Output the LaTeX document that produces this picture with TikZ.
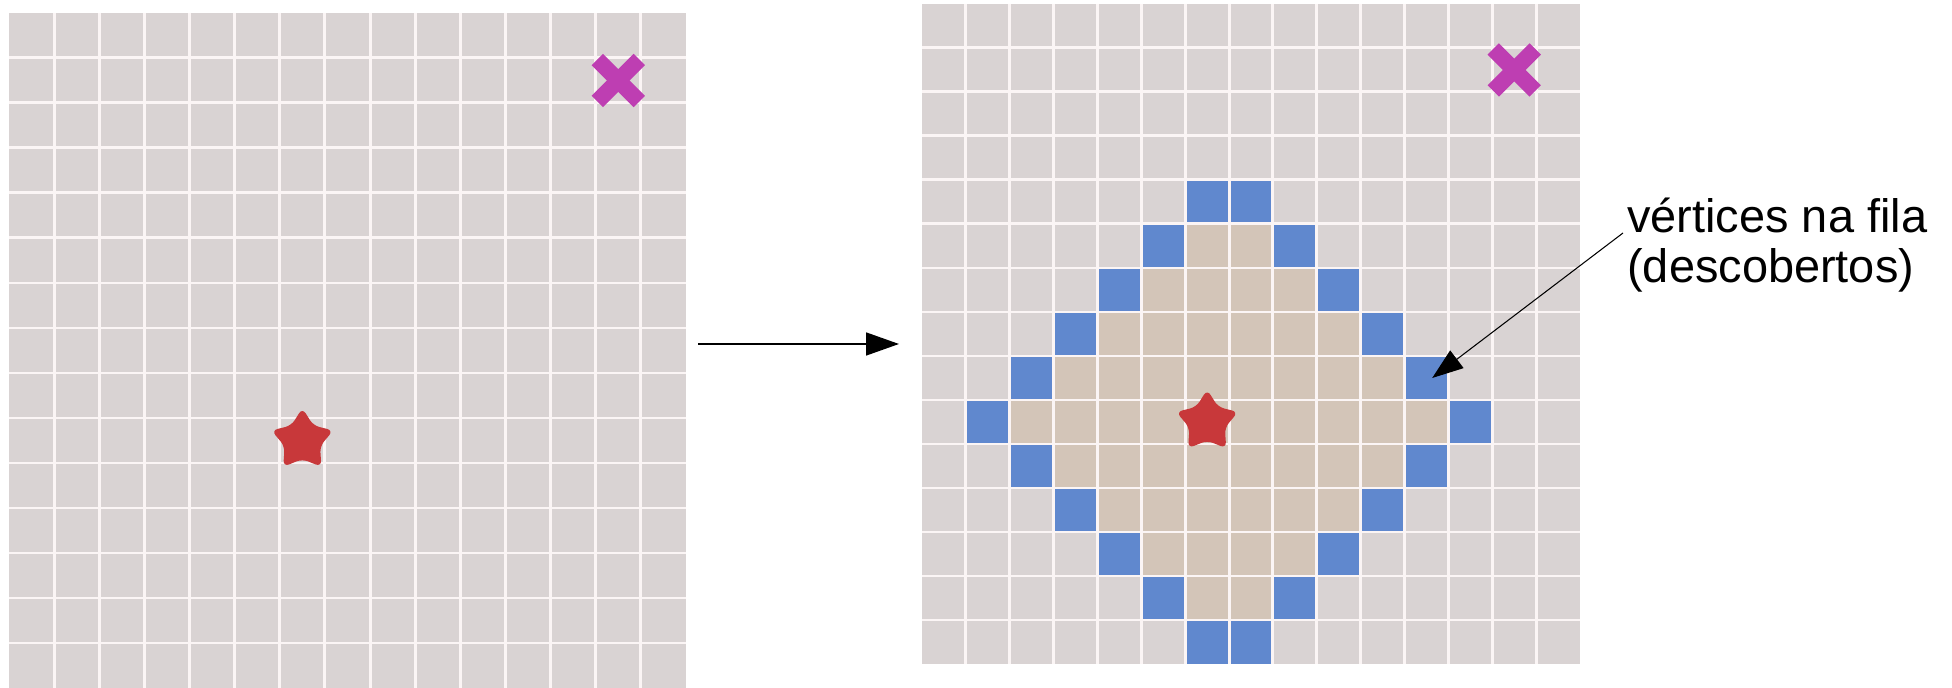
\documentclass[tikz,border=0pt]{standalone}
\usepackage{fontspec}
\setmainfont{Liberation Sans}
\usetikzlibrary{arrows.meta,shapes.geometric}
\definecolor{cellgray}{RGB}{217,211,211}
\definecolor{celltan}{RGB}{211,197,184}
\definecolor{cellblue}{RGB}{96,136,206}
\definecolor{gridline}{RGB}{251,245,245}
\definecolor{starred}{RGB}{200,56,58}
\definecolor{crossmag}{RGB}{190,62,178}
\begin{document}
\begin{tikzpicture}[x=0.02cm,y=-0.02cm,
  gline/.style={draw=gridline,line width=1.7pt},
  startmark/.style={star,star points=5,star point ratio=1.75,fill=starred,
    minimum size=1.3cm,inner sep=0pt,rounded corners=3.5pt},
  crossarm/.style={draw=crossmag,line width=0.32cm,line cap=butt},
  conn/.style={draw=black,line width=0.9pt,-{Triangle[length=0.66cm,width=0.46cm]}},
  thinconn/.style={draw=black,line width=0.6pt,-{Triangle[length=0.62cm,width=0.44cm]}},
  lbltext/.style={font=\fontsize{26.7}{29}\selectfont,align=left,inner sep=0pt},
  xmark/.pic={\draw[crossarm] (-21,-21) -- (21,21); \draw[crossarm] (-21,21) -- (21,-21);}]
\useasboundingbox (0,0) rectangle (1952,688);

% left grid
\begin{scope}[shift={(9,13)},xscale=45.13,yscale=45]
  \fill[cellgray] (0,0) rectangle (15,15);
  \foreach \i in {1,...,14} {
    \draw[gline] (\i,0) -- (\i,15);
    \draw[gline] (0,\i) -- (15,\i);
  }
  \node[startmark] (star1) at (6.5,9.5) {};
  \coordinate (cross1) at (13.5,1.5);
\end{scope}
\pic at (cross1) {xmark};

% right grid
\begin{scope}[shift={(922,4)},xscale=43.87,yscale=44]
  \fill[cellgray] (0,0) rectangle (15,15);
  \foreach \r in {0,...,14} {
    \foreach \c in {0,...,14} {
      \pgfmathsetmacro\dd{abs(\r-9)+abs(\c-6.5)}
      \ifdim\dd pt<5.4pt \fill[celltan] (\c,\r) rectangle ++(1,1); \fi
      \ifdim\dd pt>5.4pt \ifdim\dd pt<5.6pt \fill[cellblue] (\c,\r) rectangle ++(1,1); \fi\fi
    }
  }
  \foreach \i in {1,...,14} {
    \draw[gline] (\i,0) -- (\i,15);
    \draw[gline] (0,\i) -- (15,\i);
  }
  \node[startmark] (star2) at (6.5,9.5) {};
  \coordinate (cross2) at (13.5,1.5);
  \coordinate (target) at (11.63,8.5);
\end{scope}
\pic at (cross2) {xmark};

% arrow between grids
\coordinate (a1) at (698,344);
\coordinate (a2) at (899,344);
\draw[conn] (a1) -- (a2);

% label
\node[lbltext,anchor=base west] (lbl) at (1627,283) {vértices na fila\\(descobertos)};
\coordinate (lblfoot) at (1623,233);
\draw[thinconn] (lblfoot) -- (target);
\end{tikzpicture}
\end{document}
